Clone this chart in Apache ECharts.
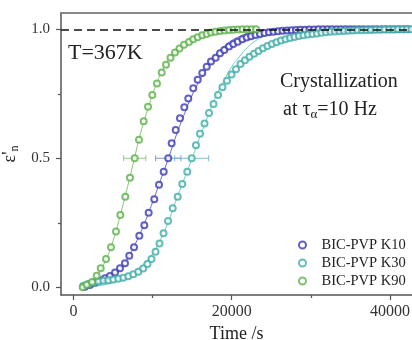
<!DOCTYPE html>
<html>
<head>
<meta charset="utf-8">
<script src="https://cdn.jsdelivr.net/npm/echarts@6/dist/echarts.min.js"></script>
<style>
html,body{margin:0;padding:0;background:#fff;}
#chart{width:412px;height:340px;}
</style>
</head>
<body>
<div id="chart"></div>
<script>
// 数据 (time /s, ε'n)
var k10Time = [1450,2090,2720,3350,3980,4610,5250,5880,6510,7050,7650,8320,8950,9500,10210,10810,11400,11980,
  12410,12920,13460,14010,14510,15140,15700,16280,16840,17380,17970,18520,19060,19660,20200,20760,21340,21890,
  22440,23010,23570,24140,24710,25280,25850,26420,26990,27560,28120,28690,29260,29830,30400,30970,31540,32110,
  32670,33240,33810,34380,34950,35520,36090,36660,37230,37790,38360,38930,39500,40070,40640,41210,41780,42340,42910];
var k10Val = [0.002,0.009,0.018,0.026,0.035,0.044,0.057,0.074,0.093,0.122,0.155,0.2,0.24,0.289,0.341,0.397,0.448,0.5,
  0.558,0.61,0.655,0.698,0.732,0.771,0.804,0.83,0.855,0.875,0.89,0.907,0.92,0.933,0.943,0.952,0.961,0.968,
  0.973,0.978,0.982,0.985,0.988,0.99,0.992,0.994,0.995,0.996,0.997,0.998,0.998,0.999,0.999,1,1,1,
  1,1,1,1,1,1,1,1,1,1,1,1,1,1,1,1,1,1,1];

var k30Time = [1240,1870,2500,3140,3770,4400,5030,5660,6300,6930,7560,8190,8820,9350,9860,10370,10870,11380,11950,
  12540,13170,13750,14380,14940,15480,15990,16560,17130,17700,18270,18830,19400,19970,20540,21110,21680,22250,
  22820,23380,23950,24520,25090,25660,26230,26800,27370,27930,28500,29070,29640,30210,30780,31350,31920,32490,
  33050,33620,34190,34760,35330,35900,36470,37040,37600,38170,38740,39310,39880,40450,41020,41590,42150,42720];
var k30Val = [0.006,0.013,0.018,0.022,0.025,0.027,0.03,0.033,0.037,0.043,0.05,0.06,0.073,0.09,0.11,0.138,0.17,0.209,0.257,
  0.306,0.351,0.4,0.448,0.5,0.55,0.595,0.635,0.675,0.71,0.745,0.775,0.8,0.825,0.845,0.865,0.88,0.893,
  0.905,0.916,0.926,0.935,0.943,0.95,0.956,0.961,0.966,0.97,0.974,0.977,0.98,0.982,0.984,0.986,0.988,0.99,
  0.991,0.992,0.993,0.994,0.995,0.996,0.996,0.997,0.997,0.998,0.998,0.999,0.999,0.999,1,1,1,1];

var k90Time = [1160,1670,2340,2930,3440,4110,4740,5370,5920,6550,7140,7740,8280,8870,9420,9960,10550,11150,11690,
  12260,12830,13400,13970,14600,15140,15700,16280,16840,17380,17950,18520,19090,19660,20220,20790,21360,21930,22500,23070];
var k90Val = [0,0.01,0.02,0.045,0.074,0.11,0.155,0.216,0.28,0.351,0.424,0.5,0.572,0.643,0.7,0.745,0.79,0.832,0.862,
  0.89,0.91,0.925,0.94,0.951,0.961,0.969,0.977,0.982,0.987,0.99,0.993,0.995,0.997,0.998,0.999,1,1,1,1];

// 拟合曲线
var fit10Time = [1500,3000,4500,6000,7000,8000,9000,10000,11000,12000,13000,14000,15000,16000,17000,18000,19000,20000,21000,22000,24000,26000,43000];
var fit10Val = [0,0.015,0.04,0.075,0.12,0.18,0.25,0.33,0.415,0.5,0.59,0.67,0.745,0.805,0.855,0.9,0.932,0.956,0.972,0.984,0.995,1,1];
var fit30Time = [1500,4000,6000,7500,9000,10000,11000,12000,13000,14000,15000,16000,17000,18000,19000,20000,21000,22000,23000,24000,25000,26000,28000,30000,43000];
var fit30Val = [0,0.01,0.03,0.055,0.095,0.13,0.185,0.255,0.34,0.42,0.5,0.585,0.665,0.74,0.8,0.855,0.895,0.93,0.955,0.972,0.983,0.99,0.997,1,1];
var fit90Time = [1000,2000,3000,4000,5000,6000,7000,7700,8500,9500,10500,11500,12500,14000,16000,18000,20000,22000,23000];
var fit90Val = [0,0.015,0.045,0.1,0.18,0.29,0.41,0.5,0.6,0.7,0.79,0.855,0.9,0.94,0.972,0.99,0.997,1,1];

// 误差棒 (中心, 值, 半宽)
var errK10 = [11980, 0.5, 1600];
var errK30 = [14940, 0.5, 2150];
var errK90 = [7740, 0.5, 1400];

var xTicks = [0, 20000, 40000];
var xMinor = [10000, 30000];
var yTicks = [0, 0.5, 1];
var yMinor = [0.25, 0.75];

var names = ['BIC-PVP K10', 'BIC-PVP K30', 'BIC-PVP K90'];
var colors = ['#3a3ab4', '#3fada6', '#5cb04a'];
var lineColors = ['#6a6ad0', '#6fcfc8', '#84c872'];
var barColors = ['#7f95d8', '#79bcd4', '#8fd07e'];

function zip(a, b) {
  var out = [];
  for (let i = 0; i < a.length; i++) out[i] = [a[i], b[i]];
  return out;
}

function renderErr(params, api) {
  var x = api.value(0), y = api.value(1), e = api.value(2);
  var p1 = api.coord([x - e, y]), p2 = api.coord([x + e, y]);
  var st = {stroke: api.visual('color'), lineWidth: 1};
  return {type: 'group', children: [
    {type: 'line', shape: {x1: p1[0], y1: p1[1], x2: p2[0], y2: p2[1]}, style: st},
    {type: 'line', shape: {x1: p1[0], y1: p1[1] - 3, x2: p1[0], y2: p1[1] + 3}, style: st},
    {type: 'line', shape: {x1: p2[0], y1: p2[1] - 3, x2: p2[0], y2: p2[1] + 3}, style: st}
  ]};
}

var serif = 'Liberation Serif';
var fits = [zip(fit10Time, fit10Val), zip(fit30Time, fit30Val), zip(fit90Time, fit90Val)];
var pts = [zip(k10Time, k10Val), zip(k30Time, k30Val), zip(k90Time, k90Val)];
var errs = [errK10, errK30, errK90];

var series = [];
for (let i = 0; i < 3; i++) {
  series.push({
    type: 'line', data: fits[i], smooth: true, showSymbol: false, silent: true,
    lineStyle: {color: lineColors[i], width: 1}, z: 1
  });
}
for (let i = 0; i < 3; i++) {
  series.push({
    type: 'custom', renderItem: renderErr, data: [errs[i]],
    itemStyle: {color: barColors[i]}, z: 2, silent: true
  });
}
for (let i = 0; i < 3; i++) {
  series.push({
    name: names[i], type: 'scatter', data: pts[i], symbol: 'emptyCircle', symbolSize: 6,
    itemStyle: {color: colors[i], borderColor: colors[i], borderWidth: 1.3}, z: 3
  });
}
// y = 1 虚线
series[0].markLine = {
  silent: true, symbol: 'none', label: {show: false},
  lineStyle: {color: '#111', type: [8, 5], width: 1.5},
  data: [{yAxis: 1}]
};

var myChart = echarts.init(document.getElementById('chart'));
var option = {
  backgroundColor: '#fff',
  animation: false,
  grid: {left: 61, right: 0, top: 13, bottom: 45, outerBoundsMode: 'none'},
  legend: {
    data: names, orient: 'vertical', left: 298, top: 237,
    itemWidth: 14, itemHeight: 7, itemGap: 2, padding: 0,
    textStyle: {fontFamily: serif, fontSize: 14.5, color: '#222', padding: [0, 0, 0, 7], lineHeight: 16}
  },
  graphic: [
    {type: 'text', left: 68, top: 42, style: {text: 'T=367K', fontFamily: serif, fontSize: 22, fill: '#222'}},
    {type: 'text', left: 280, top: 72, style: {text: 'Crystallization', fontFamily: serif, fontSize: 20, fill: '#222'}},
    {type: 'text', left: 283, top: 100, style: {
      text: '{a|at τ}{s|α}{a|=10 Hz}',
      rich: {
        a: {fontFamily: serif, fontSize: 20, fill: '#222'},
        s: {fontFamily: serif, fontSize: 13, fill: '#222', padding: [10, 0, 0, 0]}
      }
    }}
  ],
  xAxis: [{
    type: 'value', min: -1580, max: 42790, position: 'bottom',
    name: 'Time /s', nameLocation: 'middle', nameGap: 30,
    nameTextStyle: {fontFamily: serif, fontSize: 18, color: '#222'},
    splitLine: {show: false},
    axisLine: {onZero: false, lineStyle: {color: '#555', width: 1.5}},
    axisTick: {customValues: xTicks, length: 5, lineStyle: {color: '#555', width: 1.2}},
    axisLabel: {customValues: xTicks, margin: 9, fontFamily: serif, fontSize: 16, color: '#333',
      formatter: function (v) { return String(v); }}
  }, {
    type: 'value', min: -1580, max: 42790, position: 'bottom',
    splitLine: {show: false}, axisLabel: {show: false},
    axisLine: {show: false, onZero: false},
    axisTick: {customValues: xMinor, length: 3, lineStyle: {color: '#555', width: 1.2}}
  }, {
    type: 'value', min: -1580, max: 42790, position: 'top',
    splitLine: {show: false}, axisLabel: {show: false}, axisTick: {show: false},
    axisLine: {onZero: false, lineStyle: {color: '#666', width: 1.5}}
  }],
  yAxis: [{
    type: 'value', min: -0.03, max: 1.063,
    name: "{e|ε'}{n|n}", nameLocation: 'middle', nameGap: 35, nameRotate: 90,
    nameTextStyle: {rich: {
      e: {fontFamily: serif, fontSize: 18, color: '#222'},
      n: {fontFamily: serif, fontSize: 12, color: '#222', padding: [8, 0, 0, 0]}
    }},
    splitLine: {show: false},
    axisLine: {onZero: false, lineStyle: {color: '#555', width: 1.5}},
    axisTick: {customValues: yTicks, length: 5, lineStyle: {color: '#555', width: 1.2}},
    axisLabel: {customValues: yTicks, margin: 11, fontFamily: serif, fontSize: 15, color: '#333',
      formatter: function (v) { return v.toFixed(1); }}
  }, {
    type: 'value', min: -0.03, max: 1.063, position: 'left',
    splitLine: {show: false}, axisLabel: {show: false},
    axisLine: {show: false, onZero: false},
    axisTick: {customValues: yMinor, length: 3, lineStyle: {color: '#555', width: 1.2}}
  }],
  series: series
};
myChart.setOption(option);
</script>
</body>
</html>
